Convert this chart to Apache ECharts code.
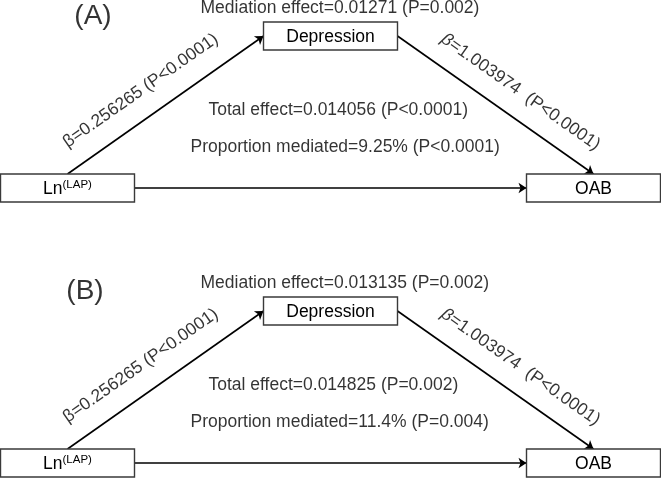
<!DOCTYPE html>
<html>
<head>
<meta charset="utf-8">
<script src="https://cdn.jsdelivr.net/npm/echarts@6/dist/echarts.min.js"></script>
<style>
html, body { margin: 0; padding: 0; background: #fff; }
#main { width: 661px; height: 478px; }
</style>
</head>
<body>
<div id="main"></div>
<script>
// ---- data ----
var nodeNames = ['Ln(LAP)', 'Depression', 'OAB'];
var edgeFrom = [0, 1, 0];
var edgeTo = [1, 2, 2];

var panelTags = ['(A)', '(B)'];
var mediationEffect = ['0.01271', '0.013135'];
var mediationP = ['P=0.002', 'P=0.002'];
var totalEffect = ['0.014056', '0.014825'];
var totalP = ['P<0.0001', 'P=0.002'];
var propMediated = ['9.25%', '11.4%'];
var propP = ['P<0.0001', 'P=0.004'];
var betaXM = ['0.256265', '0.256265'];   // Ln(LAP) -> Depression
var betaXMP = ['P<0.0001', 'P<0.0001'];
var betaMY = ['1.003974', '1.003974'];   // Depression -> OAB
var betaMYP = ['P<0.0001', 'P<0.0001'];

// ---- layout (px inside each panel) ----
var W = 661, PH = 203;
var panelTop = [0, 275];
var nodeX = [67.5, 330.5, 593.5];
var nodeY = [188, 36, 188];
var boxW = 134, boxH = 28;
var edgeSides = [['top', 'left'], ['right', 'top'], ['right', 'left']];
// label shift along / above each labelled edge
var edgeShift = [[-12, 26], [13, 25]];
var font = 'Liberation Sans, Arial, sans-serif';
var ink = '#000';

function anchor(i, side) {
    var x = nodeX[i], y = nodeY[i];
    if (side == 'top') return [x, y - boxH / 2];
    if (side == 'bottom') return [x, y + boxH / 2];
    if (side == 'left') return [x - boxW / 2, y];
    return [x + boxW / 2, y];
}

function edgeLabelPoint(p1, p2, along, perp) {
    var dx = p2[0] - p1[0], dy = p2[1] - p1[1];
    var len = Math.sqrt(dx * dx + dy * dy);
    var ux = dx / len, uy = dy / len;
    var mx = (p1[0] + p2[0]) / 2, my = (p1[1] + p2[1]) / 2;
    return {
        pos: [mx + ux * along + uy * perp, my + uy * along - ux * perp],
        rot: -Math.atan2(dy, dx) * 180 / Math.PI
    };
}

function renderBox(params, api) {
    var c = api.coord([api.value(0), api.value(1)]);
    var name = nodeNames[params.dataIndex];
    var txt = name == 'Ln(LAP)' ? '{a|Ln}{s|(LAP)}' : name;
    return {
        type: 'group',
        children: [{
            type: 'rect',
            shape: { x: c[0] - boxW / 2, y: c[1] - boxH / 2, width: boxW, height: boxH },
            style: { fill: '#fff', stroke: '#3a3a3a', lineWidth: 1.4 }
        }, {
            type: 'text',
            x: c[0], y: c[1] + 1,
            style: {
                text: txt, align: 'center', verticalAlign: 'middle',
                fontSize: 17.5, fontFamily: font, fill: ink,
                rich: {
                    a: { fontSize: 17.5, lineHeight: 20, fontFamily: font, fill: ink },
                    s: { fontSize: 11.5, lineHeight: 16, verticalAlign: 'top', fontFamily: font, fill: ink }
                }
            }
        }]
    };
}

var grids = [], xAxes = [], yAxes = [], series = [];

for (var p = 0; p < 2; p++) {
    grids.push({ left: 0, top: panelTop[p], width: W, height: PH });
    xAxes.push({ type: 'value', gridIndex: p, min: 0, max: W, show: false });
    yAxes.push({ type: 'value', gridIndex: p, min: 0, max: PH, inverse: true, show: false });

    var edgeCoords = [];
    for (var e = 0; e < edgeFrom.length; e++) {
        edgeCoords.push([anchor(edgeFrom[e], edgeSides[e][0]), anchor(edgeTo[e], edgeSides[e][1])]);
    }

    // arrows
    series.push({
        type: 'lines',
        coordinateSystem: 'cartesian2d',
        xAxisIndex: p, yAxisIndex: p,
        symbol: ['none', 'arrow'],
        symbolSize: 8,
        silent: true,
        z: 2,
        lineStyle: { color: '#000', width: 1.6, opacity: 1, curveness: 0 },
        data: edgeCoords.map(function (c) { return { coords: c }; })
    });

    // boxes
    series.push({
        type: 'custom',
        xAxisIndex: p, yAxisIndex: p,
        silent: true,
        z: 3,
        renderItem: renderBox,
        data: nodeNames.map(function (n, i) { return [nodeX[i], nodeY[i]]; })
    });

    // edge labels
    var l1 = edgeLabelPoint(edgeCoords[0][0], edgeCoords[0][1], edgeShift[0][0], edgeShift[0][1]);
    var l2 = edgeLabelPoint(edgeCoords[1][0], edgeCoords[1][1], edgeShift[1][0], edgeShift[1][1]);
    series.push({
        type: 'scatter',
        xAxisIndex: p, yAxisIndex: p,
        symbolSize: 1,
        silent: true,
        z: 4,
        itemStyle: { color: 'transparent' },
        label: {
            show: true, position: 'inside', color: ink, fontSize: 17.5, fontFamily: font,
            rich: { i: { fontStyle: 'italic', fontSize: 17.5, fontFamily: font, color: ink } }
        },
        data: [
            { value: l1.pos, label: { rotate: l1.rot, formatter: 'β=' + betaXM[p] + ' (' + betaXMP[p] + ')' } },
            { value: l2.pos, label: { rotate: l2.rot, formatter: '{i|β}=' + betaMY[p] + '  (' + betaMYP[p] + ')' } }
        ]
    });

    // effect texts (left aligned)
    series.push({
        type: 'scatter',
        xAxisIndex: p, yAxisIndex: p,
        symbolSize: 1,
        silent: true,
        z: 4,
        itemStyle: { color: 'transparent' },
        label: { show: true, position: 'right', distance: 0, color: ink, fontSize: 17.5, fontFamily: font },
        data: [
            { value: [200, 8], label: { formatter: 'Mediation effect=' + mediationEffect[p] + ' (' + mediationP[p] + ')' } },
            { value: [208, 110.5], label: { formatter: 'Total effect=' + totalEffect[p] + ' (' + totalP[p] + ')' } },
            { value: [190, 147], label: { formatter: 'Proportion mediated=' + propMediated[p] + ' (' + propP[p] + ')' } }
        ]
    });

    // panel tag
    series.push({
        type: 'scatter',
        xAxisIndex: p, yAxisIndex: p,
        symbolSize: 1,
        silent: true,
        z: 4,
        itemStyle: { color: 'transparent' },
        label: { show: true, position: 'inside', color: ink, fontSize: 28, fontFamily: font, formatter: panelTags[p] },
        data: [[p == 0 ? 93 : 85, 16]]
    });
}

var myChart = echarts.init(document.getElementById('main'));
var option = {
    backgroundColor: '#fff',
    animation: false,
    grid: grids,
    xAxis: xAxes,
    yAxis: yAxes,
    series: series
};
myChart.setOption(option);
</script>
</body>
</html>
